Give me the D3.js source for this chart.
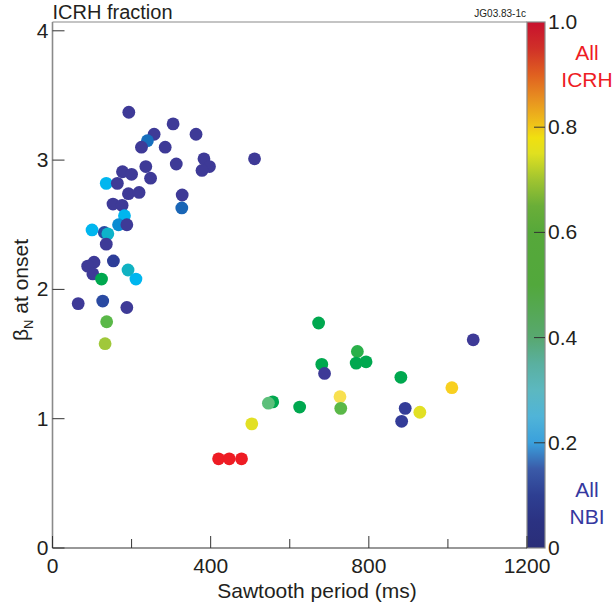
<!DOCTYPE html>
<html>
<head>
<meta charset="utf-8">
<script src="https://cdn.jsdelivr.net/npm/d3@7"></script>
<style>
    body { margin: 0; background: #fff; }
    text { font-family: "Liberation Sans", Arial, sans-serif; fill: #231f20; }
</style>
</head>
<body>
<svg id="chart" width="613" height="608"></svg>
<script>
// sawtooth period (ms), beta_N at onset, ICRH fraction
const period = [193, 305, 257, 363, 240, 225, 285, 511, 383, 313, 397, 378, 236, 177, 200, 248,
    136, 164, 192, 219, 328, 327, 153, 176, 182, 167, 188, 100, 131, 140, 136, 105, 89, 154, 102,
    191, 124, 211, 65, 127, 188, 137, 133,
    673, 771, 681, 688, 768, 793, 881, 1064, 1010, 557, 546, 625, 727, 729, 892, 883, 929, 504,
    420, 447, 478];
const betaN = [3.37, 3.28, 3.20, 3.20, 3.15, 3.10, 3.10, 3.01, 3.01, 2.97, 2.95, 2.92, 2.95, 2.91, 2.89, 2.86,
    2.82, 2.82, 2.74, 2.75, 2.73, 2.63, 2.66, 2.65, 2.57, 2.50, 2.50, 2.46, 2.44, 2.43, 2.35, 2.21, 2.18, 2.22, 2.12,
    2.15, 2.08, 2.08, 1.89, 1.91, 1.86, 1.75, 1.58,
    1.74, 1.52, 1.42, 1.35, 1.43, 1.44, 1.32, 1.61, 1.24, 1.13, 1.12, 1.09, 1.17, 1.08, 1.08, 0.98, 1.05, 0.96,
    0.69, 0.69, 0.69];
const icrh = [0, 0, 0, 0, 0.15, 0, 0, 0, 0, 0, 0, 0, 0, 0, 0, 0,
    0.22, 0, 0, 0, 0, 0.14, 0, 0, 0.22, 0.18, 0, 0.22, 0.1, 0.27, 0, 0, 0, 0.08, 0,
    0.28, 0.5, 0.22, 0, 0.1, 0, 0.4, 0.7,
    0.5, 0.45, 0.5, 0, 0.5, 0.5, 0.5, 0, 0.8, 0.5, 0.35, 0.5, 0.76, 0.4, 0.05, 0.05, 0.75, 0.75,
    1, 1, 1];

const xTicks = [0, 400, 800, 1200];
const xMinorTicks = [200, 600, 1000];
const yTicks = [0, 1, 2, 3, 4];
const cbTicks = [0, 0.2, 0.4, 0.6, 0.8, 1.0];
const cbLabels = ['0', '0.2', '0.4', '0.6', '0.8', '1.0'];

// colours of the bar and of the dots differ a little in the original
const barStops = [0, 0.05, 0.1, 0.15, 0.2, 0.25, 0.3, 0.35, 0.4, 0.45, 0.5, 0.6, 0.65, 0.7, 0.75, 0.78, 0.8, 0.85, 0.9, 0.95, 1.0];
const barColors = ['#2a2e78', '#2b3282', '#2e3f92', '#3a5aa8', '#3aa0dc', '#50b4d8', '#5cb8c0', '#5ab0a0', '#58a870', '#55a855',
    '#52a83c', '#56a83a', '#6aae38', '#a0c430', '#e0e020', '#f0e010', '#f0c818', '#e89420', '#e06020', '#d03028', '#c8102e'];
const dotStops = [0, 0.08, 0.1, 0.14, 0.18, 0.22, 0.28, 0.35, 0.4, 0.45, 0.5, 0.7, 0.75, 0.76, 0.8, 1.0];
const dotColors = ['#3e3a97', '#2d3d98', '#2a4aa2', '#1a66b6', '#0a8cd2', '#00b6ef', '#10b2c2', '#5cbf7a', '#5ab848', '#2ab04a',
    '#00a84f', '#a0c83a', '#e2e024', '#f8e050', '#f8d020', '#ee1c24'];

function drawChart() {
    const svg = d3.select('#chart');
    const left = 52.5, right = 527, top = 22, bottom = 548;

    const x = d3.scaleLinear().domain([0, 1200]).range([left, right]);
    const y = d3.scaleLinear().domain([0, (bottom - top) / 129.3]).range([bottom, top]);
    const cb = d3.scaleLinear().domain([0, 1]).range([bottom, top]);
    const dotColor = d3.scaleLinear().domain(dotStops).range(dotColors);
    const barColor = d3.scaleLinear().domain(barStops).range(barColors);

    // colour bar
    const grad = svg.append('defs').append('linearGradient')
        .attr('id', 'cbGrad').attr('x1', 0).attr('y1', 1).attr('x2', 0).attr('y2', 0);
    grad.selectAll('stop').data(barStops).enter().append('stop')
        .attr('offset', d => d)
        .attr('stop-color', d => barColor(d));
    svg.append('rect')
        .attr('x', right).attr('y', top)
        .attr('width', 18).attr('height', bottom - top)
        .attr('fill', 'url(#cbGrad)')
        .attr('stroke', '#8a8a8a').attr('stroke-width', 1.2);
    svg.selectAll('.cbtick').data(cbTicks.slice(1, 5)).enter().append('line')
        .attr('x1', right + 7).attr('x2', right + 18)
        .attr('y1', d => cb(d)).attr('y2', d => cb(d))
        .attr('stroke', '#333').attr('stroke-width', 1);
    svg.selectAll('.cblabel').data(cbTicks).enter().append('text')
        .attr('x', right + 21)
        .attr('y', d => cb(d) + 7)
        .attr('font-size', '21px')
        .text((d, i) => cbLabels[i]);

    // frame
    svg.append('line').attr('x1', left).attr('x2', right).attr('y1', top).attr('y2', top)
        .attr('stroke', '#8a8a8a').attr('stroke-width', 1.2);
    svg.append('line').attr('x1', left).attr('x2', left).attr('y1', top).attr('y2', bottom)
        .attr('stroke', '#8a8a8a').attr('stroke-width', 1.6);
    svg.append('line').attr('x1', left).attr('x2', right).attr('y1', bottom).attr('y2', bottom)
        .attr('stroke', '#333').attr('stroke-width', 1.2);

    // ticks
    svg.selectAll('.ytick').data(yTicks).enter().append('line')
        .attr('x1', left).attr('x2', left + 12)
        .attr('y1', d => y(d)).attr('y2', d => y(d))
        .attr('stroke', '#333').attr('stroke-width', 1);
    svg.selectAll('.ylabel').data(yTicks).enter().append('text')
        .attr('x', left - 4).attr('y', d => y(d) + 7)
        .attr('text-anchor', 'end').attr('font-size', '21px')
        .text(d => d);
    svg.selectAll('.xtick').data(xTicks).enter().append('line')
        .attr('x1', d => x(d)).attr('x2', d => x(d))
        .attr('y1', bottom).attr('y2', bottom - 12)
        .attr('stroke', '#333').attr('stroke-width', 1);
    svg.selectAll('.xminor').data(xMinorTicks).enter().append('line')
        .attr('x1', d => x(d)).attr('x2', d => x(d))
        .attr('y1', bottom).attr('y2', bottom - 9)
        .attr('stroke', '#333').attr('stroke-width', 1);
    svg.selectAll('.xlabel').data(xTicks).enter().append('text')
        .attr('x', d => x(d)).attr('y', bottom + 25)
        .attr('text-anchor', 'middle').attr('font-size', '21px')
        .text(d => d);

    // titles
    svg.append('text').attr('x', 317).attr('y', 598)
        .attr('text-anchor', 'middle').attr('font-size', '21px')
        .text('Sawtooth period (ms)');
    const yl = svg.append('text')
        .attr('transform', 'translate(28,290) rotate(-90)')
        .attr('text-anchor', 'middle').attr('font-size', '21px');
    yl.append('tspan').text('β');
    yl.append('tspan').attr('font-size', '13px').attr('dy', 5).text('N');
    yl.append('tspan').attr('dy', -5).text(' at onset');
    svg.append('text').attr('x', left).attr('y', 19).attr('font-size', '20px').text('ICRH fraction');
    svg.append('text').attr('x', right - 1).attr('y', 17)
        .attr('text-anchor', 'end').attr('font-size', '10px').text('JG03.83-1c');

    svg.append('text').attr('x', 587).attr('y', 60).attr('text-anchor', 'middle')
        .attr('font-size', '21px').style('fill', '#ee1c24').text('All');
    svg.append('text').attr('x', 587).attr('y', 87).attr('text-anchor', 'middle')
        .attr('font-size', '21px').style('fill', '#ee1c24').text('ICRH');
    svg.append('text').attr('x', 587).attr('y', 497).attr('text-anchor', 'middle')
        .attr('font-size', '21px').style('fill', '#3538a0').text('All');
    svg.append('text').attr('x', 587).attr('y', 524).attr('text-anchor', 'middle')
        .attr('font-size', '21px').style('fill', '#3538a0').text('NBI');

    // points
    const pts = period.map((p, i) => ({ p, b: betaN[i], f: icrh[i] }));
    svg.append('g').selectAll('circle').data(pts).enter().append('circle')
        .attr('cx', d => x(d.p))
        .attr('cy', d => y(d.b))
        .attr('r', 6.4)
        .attr('fill', d => dotColor(d.f));
}

drawChart();
</script>
</body>
</html>
